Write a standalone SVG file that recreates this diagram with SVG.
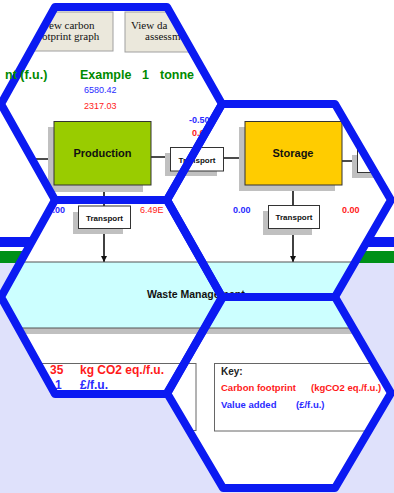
<svg xmlns="http://www.w3.org/2000/svg" width="394" height="493" viewBox="0 0 394 493">
<style>
.hex{fill:none;stroke:#0b1af2;stroke-width:8;stroke-linejoin:round}
.sh{fill:#c0c0c0}
.box{stroke:#333;stroke-width:1}
.tb{fill:#fff;stroke:#333;stroke-width:1}
.tt{font-family:"Liberation Sans",Arial,sans-serif;font-weight:bold;font-size:8px;fill:#111;text-anchor:middle}
.big{font-family:"Liberation Sans",Arial,sans-serif;font-weight:bold;font-size:11px;fill:#111;text-anchor:middle}
.v{font-family:"Liberation Sans",Arial,sans-serif;font-size:9px}
.b{font-weight:bold}
.blue{fill:#2a2aff}
.red{fill:#ff1a1a}
.grn{font-family:"Liberation Sans",Arial,sans-serif;font-weight:bold;font-size:12.5px;fill:#008a00}
.btn{font-family:"Liberation Serif","Times New Roman",serif;font-size:11px;fill:#111}
.ln{stroke:#111;stroke-width:1.6;fill:none}
</style>
<defs>
<marker id="ah" viewBox="0 0 10 10" refX="10" refY="5" markerWidth="6" markerHeight="6" markerUnits="userSpaceOnUse" orient="auto">
<path d="M0,0 L10,5 L0,10 z" fill="#111"/>
</marker>
<clipPath id="hx">
<polygon points="55,7 167,7 222,104 167,200 55,200 1,104"/>
<polygon points="167,200 222,104 335,104 391,200 335,297 222,297"/>
<polygon points="55,200 167,200 222,297 167,394 55,394 1,297"/>
<polygon points="223,297 335,297 391,393 335,488 223,488 167,393"/>
</clipPath>
</defs>
<!-- outside layer -->
<rect x="0" y="0" width="394" height="493" fill="#fff"/>
<rect x="0" y="262" width="394" height="231" fill="#dfe1fb"/>
<rect x="0" y="237" width="394" height="10" fill="#0b1af2"/>
<rect x="0" y="251" width="394" height="12" fill="#009018"/>
<!-- clipped content -->
<g clip-path="url(#hx)">
<rect x="0" y="0" width="394" height="493" fill="#fff"/>
<g id="buttons">
<rect x="30" y="12" width="83" height="39" fill="#ebe8dc" stroke="#a0a0a0" stroke-width="1"/>
<text class="btn" x="49" y="29">ew carbon</text>
<text class="btn" x="42" y="40">otprint graph</text>
<rect x="125" y="12" width="70" height="40" fill="#ebe8dc" stroke="#a0a0a0" stroke-width="1"/>
<text class="btn" x="131" y="29">View da</text>
<text class="btn" x="145" y="40">assessm</text>
</g>
<g id="header">
<text class="grn" x="80" y="79">Example</text>
<text class="grn" x="142" y="79">1</text>
<text class="grn" x="160" y="79">tonne</text>
<text class="v blue" x="84" y="93">6580.42</text>
<text class="v red" x="84" y="109">2317.03</text>
<text class="v b blue" x="189" y="123" font-size="11">-0.50</text>
<text class="v b red" x="192" y="136" font-size="11">0.6</text>
</g>
<g id="connectors">
<line class="ln" x1="20" y1="159" x2="54" y2="159" marker-end="url(#ah)"/>
<line class="ln" x1="151" y1="157" x2="170" y2="157"/>
<line class="ln" x1="223" y1="158" x2="245" y2="158" marker-end="url(#ah)"/>
<line class="ln" x1="342" y1="161" x2="357" y2="161"/>
<line class="ln" x1="104" y1="185" x2="104" y2="206"/>
<line class="ln" x1="104" y1="229" x2="104" y2="262" marker-end="url(#ah)"/>
<line class="ln" x1="293" y1="185" x2="293" y2="205"/>
<line class="ln" x1="293" y1="228" x2="293" y2="262" marker-end="url(#ah)"/>
</g>
<g id="production">
<rect class="sh" x="48" y="127" width="95" height="65"/>
<rect class="box" x="54" y="121.5" width="97" height="63.5" fill="#99cc00"/>
<text class="big" x="102.5" y="157">Production</text>
</g>
<g id="transport1">
<rect class="sh" x="165" y="153" width="52" height="23"/>
<rect class="tb" x="170.5" y="147.5" width="53" height="23.5"/>
<text class="tt" x="197" y="162.5">Transport</text>
</g>
<g id="storage">
<rect class="sh" x="239" y="127" width="96" height="64"/>
<rect class="box" x="245" y="121.5" width="97" height="63.5" fill="#ffcc00"/>
<text class="big" x="293" y="157">Storage</text>
</g>
<g id="transport-right">
<rect class="sh" x="352" y="155" width="52" height="23"/>
<rect class="tb" x="357.5" y="149.5" width="53" height="23"/>
</g>
<g id="transport2">
<rect class="sh" x="73" y="212" width="50" height="22"/>
<rect class="tb" x="78.5" y="206" width="52" height="22.5"/>
<text class="tt" x="104.5" y="220.5">Transport</text>
</g>
<g id="transport3">
<rect class="sh" x="263" y="211" width="49" height="24"/>
<rect class="tb" x="268.5" y="205.5" width="51" height="23"/>
<text class="tt" x="294" y="220">Transport</text>
</g>
<g id="values">
<text class="v b blue" x="65" y="213" text-anchor="end">0.00</text>
<text class="v red" x="140" y="213">6.49E</text>
<text class="v b blue" x="233" y="213">0.00</text>
<text class="v b red" x="342" y="213">0.00</text>
</g>
<g id="waste">
<rect class="sh" x="0" y="328" width="390" height="6"/>
<rect x="-5" y="262" width="395" height="66" fill="#ccffff" stroke="#555" stroke-width="1"/>
<text x="147" y="298" font-family="Liberation Sans, Arial, sans-serif" font-weight="bold" font-size="10.5" fill="#111">Waste Management</text>
</g>
<g id="summary">
<rect x="30.5" y="363.5" width="165.5" height="67" fill="#fff" stroke="#666" stroke-width="1"/>
<text x="50" y="374" font-family="Liberation Sans, Arial, sans-serif" font-weight="bold" font-size="12" class="red">35</text>
<text x="80" y="374" font-family="Liberation Sans, Arial, sans-serif" font-weight="bold" font-size="12" class="red">kg CO2 eq./f.u.</text>
<text x="55" y="389" font-family="Liberation Sans, Arial, sans-serif" font-weight="bold" font-size="12" class="blue">1</text>
<text x="80" y="389" font-family="Liberation Sans, Arial, sans-serif" font-weight="bold" font-size="12" class="blue">£/f.u.</text>
</g>
<g id="key">
<rect x="214.5" y="363.5" width="180" height="67.5" fill="#fff" stroke="#666" stroke-width="1"/>
<text x="221" y="375" font-family="Liberation Sans, Arial, sans-serif" font-weight="bold" font-size="10" fill="#222">Key:</text>
<text x="221" y="391" font-family="Liberation Sans, Arial, sans-serif" font-weight="bold" font-size="9.5" class="red">Carbon footprint</text>
<text x="311" y="391" font-family="Liberation Sans, Arial, sans-serif" font-weight="bold" font-size="9.5" class="red">(kgCO2 eq./f.u.)</text>
<text x="221" y="408" font-family="Liberation Sans, Arial, sans-serif" font-weight="bold" font-size="9.5" class="blue">Value added</text>
<text x="296" y="408" font-family="Liberation Sans, Arial, sans-serif" font-weight="bold" font-size="9.5" class="blue">(£/f.u.)</text>
</g>
</g>
<!-- hexagon outlines -->
<g id="hexagons">
<polygon class="hex" points="55,7 167,7 222,104 167,200 55,200 1,104"/>
<polygon class="hex" points="167,200 222,104 335,104 391,200 335,297 222,297"/>
<polygon class="hex" points="55,200 167,200 222,297 167,394 55,394 1,297"/>
<polygon class="hex" points="223,297 335,297 391,393 335,488 223,488 167,393"/>
</g>
<text class="grn" x="5" y="79">nt (f.u.)</text>
</svg>
